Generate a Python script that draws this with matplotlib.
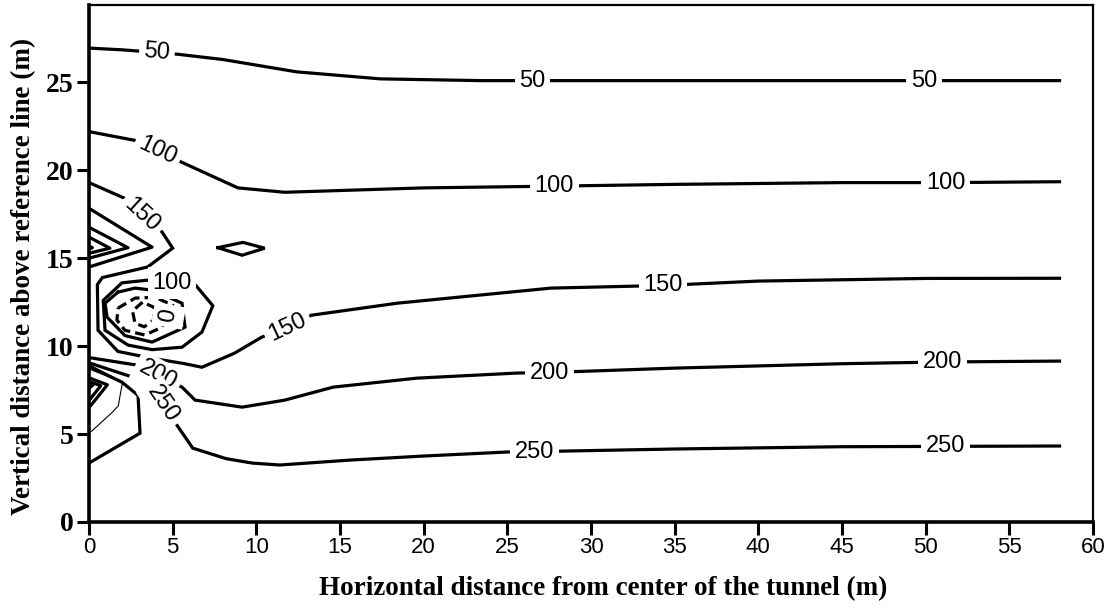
import matplotlib
matplotlib.use("Agg")
import matplotlib.pyplot as plt

# contour polylines (x in m, y in m)
c50_x = [0, 2.0, 4.06, 5.3, 8.0, 12.4, 17.4, 23.4, 30, 40, 50, 58]
c50_y = [26.95, 26.85, 26.7, 26.6, 26.3, 25.6, 25.2, 25.1, 25.1, 25.1, 25.1, 25.1]

c100_x = [0, 2.75, 4.1, 5.56, 8.9, 11.7, 15, 20, 27.8, 35, 45, 51.2, 58]
c100_y = [22.2, 21.7, 21.1, 20.45, 19.0, 18.75, 18.85, 19.0, 19.1, 19.2, 19.3, 19.3, 19.35]

c150_x = [0, 2.15, 3.17, 4.36, 5.0, 3.5, 0.8, 0.5, 0.54, 1.73, 3.8, 5.56, 6.75,
          8.7, 10.3, 11.85, 13.3, 18.4, 27.6, 34.3, 40, 50, 58]
c150_y = [19.3, 18.4, 17.45, 16.5, 15.57, 14.5, 13.9, 13.5, 10.9, 9.7, 9.3, 9.03, 8.8,
          9.6, 10.5, 11.1, 11.76, 12.44, 13.3, 13.45, 13.7, 13.85, 13.86]

c200_x = [0, 2.87, 4.1, 5.56, 6.34, 9.15, 11.7, 14.6, 19.6, 25.6, 27.5, 35, 45, 51.0, 58]
c200_y = [9.35, 8.92, 8.35, 7.67, 6.93, 6.53, 6.93, 7.67, 8.18, 8.47, 8.5, 8.75, 9.0, 9.1, 9.15]

c250_x = [0, 3.53, 4.4, 5.26, 6.2, 8.2, 9.75, 11.4, 15.6, 20, 25, 26.6, 35, 45, 51.2, 58]
c250_y = [9.05, 7.95, 6.7, 5.5, 4.2, 3.6, 3.35, 3.24, 3.52, 3.75, 3.98, 4.0, 4.15, 4.28, 4.3, 4.32]

# unlabelled inner contours
loop100_x = [4.96, 6.3, 7.4, 6.75, 5.56, 3.77, 2.33, 0.96, 0.85, 1.97, 3.47, 4.96]
loop100_y = [13.58, 13.55, 12.3, 10.8, 9.94, 9.8, 10.06, 10.9, 12.6, 13.6, 13.75, 13.58]

loop50_x = [1.73, 2.75, 3.83, 5.56, 5.74, 3.77, 2.15, 1.08, 0.96, 1.73]
loop50_y = [13.07, 13.3, 13.18, 12.44, 11.08, 10.23, 10.6, 11.65, 12.44, 13.07]

loop0_x = [1.73, 2.75, 3.95, 5.0, 4.72, 4.36, 3.35, 2.15, 1.67, 1.73]
loop0_y = [12.16, 12.73, 12.78, 12.33, 11.72, 11.08, 10.63, 10.9, 11.48, 12.16]

loopneg_x = [3.2, 2.6, 2.75, 3.3, 3.9, 3.9, 3.2]
loopneg_y = [12.5, 12.0, 11.3, 11.1, 11.5, 12.2, 12.5]

diamond_x = [7.7, 9.2, 10.5, 9.15, 7.7]
diamond_y = [15.6, 15.9, 15.57, 15.17, 15.6]

wedge_up_x = [[0, 3.77, 0], [0, 2.33, 0], [0, 1.25, 0], [0, 0.2, 0]]
wedge_up_y = [[17.84, 15.63, 14.5], [16.76, 15.6, 15.0], [16.2, 15.57, 15.28], [15.7, 15.6, 15.5]]

wedge_lo_x = [[0, 1.1, 0], [0, 0.7, 0], [0, 0.25, 0]]
wedge_lo_y = [[8.2, 7.8, 6.5], [8.0, 7.75, 6.9], [7.95, 7.8, 7.6]]

c300_x = [0, 1.97, 2.93, 3.05, 0]
c300_y = [8.85, 7.95, 7.2, 5.05, 3.35]

thin_x = [[0, 2.0, 1.75, 1.35, 0.2, 0], [0, 1.9], [0, 1.8]]
thin_y = [[8.7, 7.95, 6.6, 6.2, 5.2, 5.05], [8.95, 8.02], [8.8, 7.98]]

# contour labels: text, x, y, angle
lab_text = ["50", "50", "50", "100", "100", "100", "150", "150", "150",
            "200", "200", "200", "250", "250", "250", "100", "0"]
lab_x = [4.06, 26.5, 49.9, 4.1, 27.8, 51.2, 3.17, 11.85, 34.3,
         4.1, 27.5, 51.0, 4.4, 26.6, 51.2, 4.96, 4.75]
lab_y = [26.7, 25.1, 25.1, 21.1, 19.1, 19.3, 17.45, 11.1, 13.45,
         8.35, 8.5, 9.1, 6.7, 4.0, 4.3, 13.58, 11.72]
lab_rot = [-5, 0, 0, -25, 0, 0, -43, 25, 0, -28, 0, 0, -56, 0, 0, 0, 80]

xticks = list(range(0, 61, 5))
yticks = list(range(0, 26, 5))

fig = plt.figure(figsize=(11.11, 6.11), dpi=100)
ax = fig.add_axes([0.0801, 0.1457, 0.9037, 0.8461])

lw = 2.3
for xs, ys in [(c50_x, c50_y), (c100_x, c100_y), (c150_x, c150_y), (c200_x, c200_y),
               (c250_x, c250_y), (loop100_x, loop100_y), (loop50_x, loop50_y),
               (diamond_x, diamond_y), (c300_x, c300_y)]:
    ax.plot(xs, ys, color="black", lw=lw, solid_joinstyle="miter", zorder=2)
for xs, ys in zip(wedge_up_x + wedge_lo_x, wedge_up_y + wedge_lo_y):
    ax.plot(xs, ys, color="black", lw=lw, zorder=2)
for xs, ys in zip(thin_x, thin_y):
    ax.plot(xs, ys, color="black", lw=0.8, zorder=2)
ax.plot(loop0_x, loop0_y, color="black", lw=lw, ls=(0, (3, 1.6)), zorder=2)
ax.plot(loopneg_x, loopneg_y, color="black", lw=lw, ls=(0, (3, 1.6)), zorder=2)

for t, x, y, r in zip(lab_text, lab_x, lab_y, lab_rot):
    ax.text(x, y, t, rotation=r, rotation_mode="anchor", ha="center", va="center",
            fontsize=17, family="Liberation Sans", zorder=3,
            bbox=dict(boxstyle="square,pad=0.2", fc="white", ec="none"))

ax.set_xlim(0, 60)
ax.set_ylim(0, 29.4)
ax.set_xticks(xticks)
ax.set_yticks(yticks)
ax.set_xticklabels([str(v) for v in xticks], family="Liberation Sans", fontsize=16)
ax.set_yticklabels([str(v) for v in yticks], family="Liberation Serif", fontweight="bold",
                   fontsize=20)
ax.tick_params(axis="both", direction="out", length=9, width=2.2, pad=2)

for side in ["left", "bottom"]:
    ax.spines[side].set_linewidth(2.6)
for side in ["top", "right"]:
    ax.spines[side].set_linewidth(1.6)

ax.set_xlabel("Horizontal distance from center of the tunnel (m)", family="Liberation Serif",
              fontweight="bold", fontsize=19.5)
ax.set_ylabel("Vertical distance above reference line (m)", family="Liberation Serif",
              fontweight="bold", fontsize=19.5)
ax.xaxis.set_label_coords(0.512, -0.104)
ax.yaxis.set_label_coords(-0.053, 0.474)

fig.savefig("out.png", dpi=100)
